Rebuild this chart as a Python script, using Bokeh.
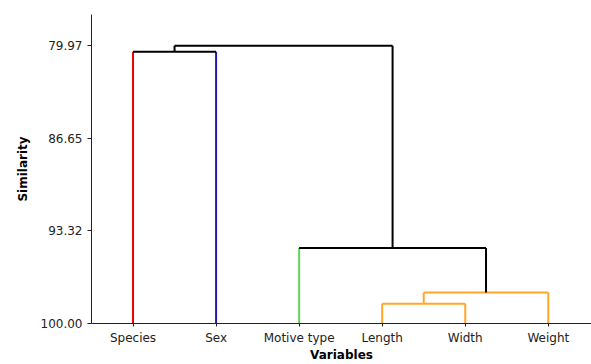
from bokeh.plotting import figure
from bokeh.models import Range1d, FixedTicker, ColumnDataSource
from bokeh.embed import file_html
from bokeh.resources import INLINE

# ---- data ----
variables = ["Species", "Sex", "Motive type", "Length", "Width", "Weight"]
leaf_colors = ["#ee0000", "#1c1ca8", "#62d45a", "#ffa72a", "#ffa72a", "#ffa72a"]
# merges (scipy-style ids: 0-5 leaves, 6+ clusters in merge order)
merge_left = [3, 6, 2, 0, 9]
merge_right = [4, 5, 7, 1, 8]
merge_height = [98.58, 97.77, 94.55, 80.40, 79.97]
merge_color = ["#ffa72a", "#ffa72a", "#000000", "#000000", "#000000"]
y_ticks = [79.97, 86.65, 93.32, 100.00]

# ---- dendrogram geometry via data coordinates ----
n = len(variables)
xpos = {i: i + 1 for i in range(n)}
ypos = {i: 100.0 for i in range(n)}
x0, y0, x1, y1, col = [], [], [], [], []
for k, (a, b, h, c) in enumerate(zip(merge_left, merge_right, merge_height, merge_color)):
    for child in (a, b):
        cc = leaf_colors[child] if child < n else c
        x0.append(xpos[child]); y0.append(ypos[child]); x1.append(xpos[child]); y1.append(h); col.append(cc)
    x0.append(xpos[a]); y0.append(h); x1.append(xpos[b]); y1.append(h); col.append(c)
    cid = n + k
    xpos[cid] = (xpos[a] + xpos[b]) / 2.0
    ypos[cid] = h

src = ColumnDataSource(dict(x0=x0, y0=y0, x1=x1, y1=y1, color=col))

p = figure(width=591, height=364, output_backend="svg", toolbar_location=None,
           x_range=Range1d(0.5, 6.52), y_range=Range1d(100.0, 77.72),
           min_border_left=91, min_border_top=14, min_border_right=0, min_border_bottom=30)
p.segment("x0", "y0", "x1", "y1", source=src, color="color", line_width=2)

p.background_fill_color = "white"
p.border_fill_color = "white"
p.outline_line_color = None
p.grid.visible = False

font = "DejaVu Sans"
p.xaxis.ticker = FixedTicker(ticks=list(range(1, n + 1)))
p.xaxis.major_label_overrides = {i + 1: v for i, v in enumerate(variables)}
p.xaxis.minor_tick_line_color = None
p.xaxis.major_tick_out = 3
p.xaxis.major_tick_in = 0
p.xaxis.major_label_standoff = 4
p.xaxis.axis_label = "Variables"
p.xaxis.axis_label_standoff = 0

p.yaxis.ticker = FixedTicker(ticks=y_ticks)
p.yaxis.major_label_overrides = {t: f"{t:.2f}" for t in y_ticks}
p.yaxis.minor_tick_line_color = None
p.yaxis.major_tick_out = 4
p.yaxis.major_tick_in = 0
p.yaxis.major_label_standoff = 5
p.yaxis.axis_label = "Similarity"
p.yaxis.axis_label_standoff = 8

for ax in (p.xaxis, p.yaxis):
    ax.major_label_text_font = font
    ax.major_label_text_font_size = "12px"
    ax.major_label_text_color = "#222222"
    ax.axis_label_text_font = font
    ax.axis_label_text_font_size = "12px"
    ax.axis_label_text_font_style = "bold"
    ax.axis_label_text_color = "#000000"
    ax.axis_line_color = "#222222"
    ax.major_tick_line_color = "#222222"

open("out.html", "w").write(file_html(p, INLINE))
